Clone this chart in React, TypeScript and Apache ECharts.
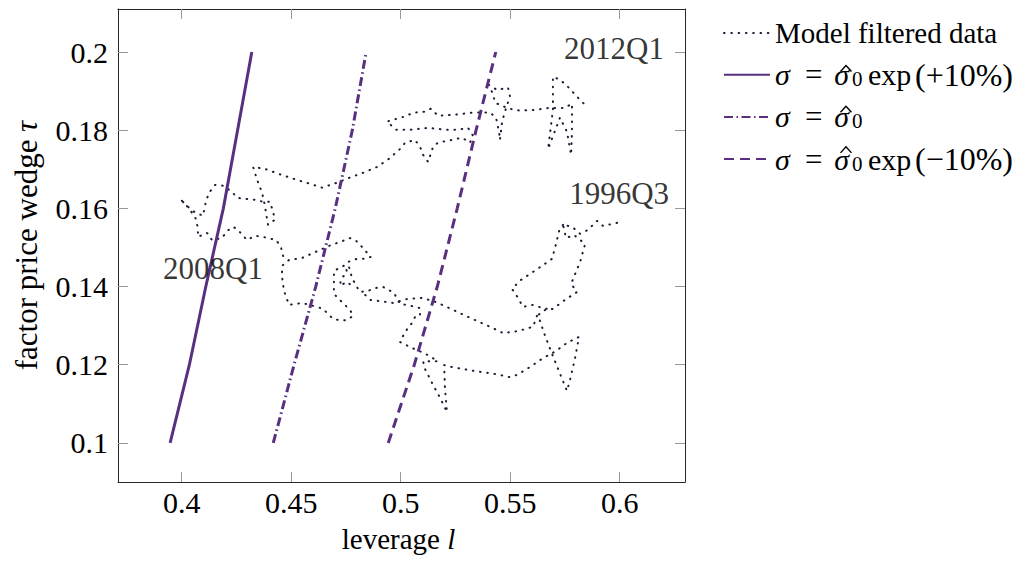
import React, { useEffect, useRef } from 'react';
import * as echarts from 'echarts';

// ---------- data ----------
const tauGrid = [0.1, 0.12, 0.14, 0.16, 0.18, 0.2];
const levPlus10 = [0.3947, 0.4035, 0.411, 0.419, 0.4255, 0.432];
const levBase = [0.4418, 0.4513, 0.4612, 0.4701, 0.4779, 0.4842];
const levMinus10 = [0.4943, 0.5062, 0.5167, 0.5258, 0.5344, 0.5434];

// model filtered data path (leverage l, wedge tau), drawn as connected strokes
const filteredPart1: [number, number][] = [
  [0.5988, 0.1563], [0.5924, 0.1555], [0.5896, 0.1568], [0.5855, 0.1545], [0.5819, 0.1535],
  [0.5782, 0.1553], [0.5741, 0.1558], [0.5755, 0.1524], [0.5791, 0.1532], [0.5842, 0.1509],
  [0.5819, 0.1463], [0.5778, 0.1407], [0.5805, 0.1386], [0.5755, 0.1368], [0.5695, 0.1343],
  [0.5659, 0.134], [0.5627, 0.1327], [0.5659, 0.1274], [0.5695, 0.1222], [0.5759, 0.1133],
  [0.5773, 0.1161], [0.5796, 0.1217], [0.5814, 0.1271], [0.5759, 0.1256], [0.5709, 0.1235],
  [0.565, 0.1217], [0.559, 0.1194], [0.5531, 0.1174], [0.5499, 0.1168], [0.5435, 0.1176],
  [0.5335, 0.1184], [0.5234, 0.1194], [0.5198, 0.1199], [0.5202, 0.114], [0.5211, 0.1079],
  [0.518, 0.1115], [0.5148, 0.1148], [0.5111, 0.1189], [0.5102, 0.1209], [0.517, 0.1209],
  [0.5116, 0.1227], [0.5052, 0.1243], [0.4997, 0.1258], [0.5011, 0.1274], [0.5029, 0.1291],
  [0.5052, 0.1307], [0.5065, 0.1322], [0.5088, 0.1325], [0.5088, 0.1345], [0.5029, 0.1353],
  [0.4997, 0.1355], [0.4969, 0.1384], [0.4919, 0.1399], [0.4883, 0.1396], [0.4851, 0.1389],
  [0.4814, 0.1386], [0.48, 0.1399], [0.4782, 0.1417], [0.4769, 0.1437], [0.4759, 0.1463],
  [0.48, 0.1471], [0.4837, 0.1471], [0.4864, 0.1476], [0.4842, 0.1489], [0.4819, 0.1504],
  [0.4796, 0.1517], [0.4769, 0.1524], [0.4737, 0.1517], [0.4673, 0.1504], [0.4613, 0.1489],
  [0.4549, 0.1473], [0.449, 0.1468], [0.4458, 0.1453], [0.4458, 0.1425], [0.4467, 0.1389],
  [0.449, 0.1353], [0.4549, 0.1358], [0.4618, 0.1348], [0.4645, 0.1343], [0.4691, 0.1317],
  [0.4723, 0.1314], [0.4755, 0.1314], [0.4782, 0.1325], [0.4769, 0.134], [0.4741, 0.1355],
  [0.4718, 0.1368], [0.4695, 0.1381], [0.4695, 0.1412], [0.4695, 0.144], [0.4746, 0.1455],
  [0.4755, 0.1437], [0.4727, 0.1419], [0.4723, 0.1402], [0.4755, 0.1412], [0.4782, 0.1399],
];
const filteredPart2: [number, number][] = [
  [0.5741, 0.1558], [0.5723, 0.1542], [0.5709, 0.1509], [0.5691, 0.1471], [0.5632, 0.1448],
  [0.5549, 0.1417], [0.5508, 0.1394], [0.5527, 0.1379], [0.5558, 0.1348], [0.5604, 0.1353],
  [0.5659, 0.1343], [0.5695, 0.1343],
];
const filteredPart3: [number, number][] = [
  [0.5622, 0.1325], [0.5604, 0.1297], [0.5536, 0.1286], [0.5467, 0.1281], [0.5408, 0.1297],
  [0.5316, 0.132], [0.5221, 0.1345], [0.5157, 0.1361], [0.5097, 0.1371], [0.5029, 0.1368],
  [0.4965, 0.1358], [0.4928, 0.1361], [0.486, 0.1366], [0.4837, 0.1379], [0.4814, 0.1386],
];
const filteredPart4: [number, number][] = [
  [0.4463, 0.1478], [0.4453, 0.1501], [0.4431, 0.1519], [0.4371, 0.1527], [0.4335, 0.153],
  [0.4298, 0.1519], [0.4253, 0.1547], [0.4234, 0.1553], [0.4207, 0.1542], [0.4184, 0.1524],
  [0.4138, 0.1519], [0.4116, 0.1537], [0.4074, 0.1527], [0.4074, 0.1548], [0.4065, 0.1573],
  [0.4038, 0.1596], [0.4015, 0.1612], [0.3992, 0.1624], [0.4047, 0.1594], [0.4097, 0.1581],
  [0.4111, 0.1619], [0.4125, 0.164], [0.4152, 0.166], [0.4189, 0.1658], [0.423, 0.1642],
  [0.4253, 0.1627], [0.4298, 0.1624], [0.4335, 0.1622], [0.4371, 0.1617], [0.4403, 0.1617],
  [0.4417, 0.1591], [0.4426, 0.1571], [0.4394, 0.1558], [0.438, 0.1606], [0.4367, 0.164],
  [0.4344, 0.1673], [0.4326, 0.1706], [0.438, 0.1701], [0.4444, 0.1688], [0.4508, 0.1676],
  [0.4572, 0.1665], [0.4641, 0.1653], [0.4705, 0.1665], [0.4764, 0.1678], [0.4828, 0.1691],
  [0.4892, 0.1706], [0.4947, 0.1727], [0.4997, 0.1752], [0.502, 0.1768], [0.5065, 0.1775],
  [0.5088, 0.1758], [0.5102, 0.1737], [0.5125, 0.1719], [0.5148, 0.1758], [0.517, 0.1768],
  [0.5234, 0.1775], [0.528, 0.1781], [0.5316, 0.1768], [0.533, 0.1786], [0.5307, 0.1806],
  [0.5262, 0.1801], [0.5207, 0.1801], [0.5125, 0.1806], [0.5042, 0.1801], [0.4979, 0.1801],
  [0.4937, 0.1822], [0.5011, 0.1834], [0.5061, 0.1845], [0.5106, 0.1847], [0.5138, 0.1855],
  [0.517, 0.1837], [0.5234, 0.1839], [0.533, 0.1845], [0.5408, 0.1845], [0.5435, 0.1832],
  [0.5449, 0.1796], [0.5453, 0.1775], [0.5463, 0.1822], [0.5481, 0.1857], [0.5499, 0.1886],
  [0.549, 0.1909], [0.544, 0.1903], [0.5403, 0.1916], [0.5422, 0.1891], [0.5431, 0.187],
  [0.5495, 0.1855], [0.5545, 0.185], [0.5613, 0.1852], [0.5677, 0.1857], [0.575, 0.1857],
  [0.5782, 0.1868], [0.5782, 0.1801], [0.5778, 0.1737], [0.5759, 0.1796], [0.5727, 0.1832],
  [0.5673, 0.1752], [0.5695, 0.1852], [0.5695, 0.1937], [0.5727, 0.1929], [0.5755, 0.1916],
  [0.5796, 0.1891], [0.5823, 0.1875], [0.5851, 0.186],
];

const annotationNames = ['2012Q1', '1996Q3', '2008Q1'];
const annotationLev = [0.5974, 0.5997, 0.4143];
const annotationTau = [0.2008, 0.1637, 0.1445];

const xTicks = [0.4, 0.45, 0.5, 0.55, 0.6];
const yTicks = [0.1, 0.12, 0.14, 0.16, 0.18, 0.2];

const NAME_DATA = 'Model filtered data';
const NAME_PLUS = 'σ = σ\u0302₀ exp(+10%)';
const NAME_BASE = 'σ = σ\u0302₀';
const NAME_MINUS = 'σ = σ\u0302₀ exp(−10%)';

// ---------- styling ----------
const FONT = "'Liberation Serif', 'Times New Roman', serif";
const PURPLE = '#59307f';
const DOTS = '#221a36';

const legendText: Record<string, string> = {
  [NAME_DATA]: '{t|Model filtered data}',
  [NAME_PLUS]: '{s1|σ}{eq|=}{s2|σ}{sub|0}{fn|exp}{fp|(+10%)}',
  [NAME_BASE]: '{s1|σ}{eq|=}{s2|σ}{sub|0}',
  [NAME_MINUS]: '{s1|σ}{eq|=}{s2|σ}{sub|0}{fn|exp}{fp|(−10%)}',
};
// circumflex accents over the second sigma of the three formula rows
const hatRows = [71.5, 112.2, 152.9];

const fmt = (v: number) => String(+v.toFixed(2));

export default function App() {
  const ref = useRef<HTMLDivElement>(null);

  useEffect(() => {
    if (!ref.current) return;
    const chart = echarts.init(ref.current, null, { renderer: 'svg' });

    const dotted = {
      type: 'line',
      name: NAME_DATA,
      showSymbol: false,
      symbol: 'none',
      lineStyle: { color: DOTS, width: 2, type: [0.6, 6.7], cap: 'round' },
      itemStyle: { color: DOTS },
      z: 2,
    };
    const pair = (ls: number[]) => ls.map((l, i) => [l, tauGrid[i]]);
    const base = { fontFamily: FONT, fontSize: 29, color: '#000' };
    const italic = { ...base, fontStyle: 'italic' };
    const tickRich = { t: { fontFamily: FONT, fontSize: 30, color: '#000', lineHeight: 30 } };

    const option: any = {
      animation: false,
      textStyle: { fontFamily: FONT },
      grid: { left: 118, top: 9, right: 344, bottom: 83 },
      legend: {
        data: [NAME_DATA, NAME_PLUS, NAME_BASE, NAME_MINUS],
        orient: 'vertical',
        left: 723,
        top: 18,
        padding: 0,
        itemWidth: 46,
        itemHeight: 14,
        itemGap: 10.7,
        selectedMode: false,
        itemStyle: { opacity: 0, borderWidth: 0 },
        formatter: (name: string) => legendText[name] ?? name,
        textStyle: {
          ...base,
          lineHeight: 30,
          rich: {
            t: { ...base, lineHeight: 30 },
            s1: { ...italic, fontSize: 30, lineHeight: 30, width: 30 },
            eq: { ...base, fontSize: 31, lineHeight: 30, width: 29.3 },
            s2: { ...italic, fontSize: 30, lineHeight: 30, width: 17.7 },
            sub: { ...base, fontSize: 21, lineHeight: 14, width: 16, verticalAlign: 'bottom' },
            fn: { ...base, fontSize: 30, lineHeight: 30, width: 47 },
            fp: { ...base, fontSize: 32, lineHeight: 30 },
          },
        },
      },
      graphic: {
        elements: hatRows.map((y) => ({
          type: 'polyline',
          shape: { points: [[840.5, y], [846, y - 6], [851.5, y]] },
          style: { stroke: '#000', lineWidth: 1.4, fill: null },
          z: 10,
        })),
      },
      xAxis: [
        {
          type: 'value',
          min: 0.3709,
          max: 0.6298,
          position: 'bottom',
          name: '{n|leverage }{i|l}',
          nameLocation: 'middle',
          nameGap: 42,
          nameTextStyle: { ...base, padding: [0, 6, 0, 0], rich: { n: base, i: italic } },
          axisLine: { show: true, lineStyle: { color: '#262626', width: 1 } },
          axisTick: { show: true, inside: true, length: 10, customValues: xTicks, lineStyle: { color: '#999' } },
          axisLabel: {
            customValues: xTicks,
            formatter: (v: number) => `{t|${fmt(v)}}`,
            rich: tickRich,
            fontFamily: FONT,
            fontSize: 30,
            color: '#000',
            verticalAlign: 'middle',
            margin: 20,
          },
          splitLine: { show: false },
        },
        {
          type: 'value',
          min: 0.3709,
          max: 0.6298,
          position: 'top',
          axisLine: { show: true, lineStyle: { color: '#262626', width: 1 } },
          axisTick: { show: true, inside: true, length: 10, customValues: xTicks, lineStyle: { color: '#999' } },
          axisLabel: { show: false },
          splitLine: { show: false },
        },
      ],
      yAxis: [
        {
          type: 'value',
          min: 0.09,
          max: 0.211,
          position: 'left',
          name: '{n|factor price wedge }{i|τ}',
          nameLocation: 'middle',
          nameGap: 76,
          nameTextStyle: { ...base, fontSize: 31, rich: { n: { ...base, fontSize: 31 }, i: { ...italic, fontSize: 31 } } },
          axisLine: { show: true, lineStyle: { color: '#262626', width: 1 } },
          axisTick: { show: true, inside: true, length: 10, customValues: yTicks, lineStyle: { color: '#999' } },
          axisLabel: {
            customValues: yTicks,
            formatter: (v: number) => `{t|${fmt(v)}}`,
            rich: tickRich,
            fontFamily: FONT,
            fontSize: 30,
            color: '#000',
            margin: 10,
          },
          splitLine: { show: false },
        },
        {
          type: 'value',
          min: 0.09,
          max: 0.211,
          position: 'right',
          axisLine: { show: true, lineStyle: { color: '#262626', width: 1 } },
          axisTick: { show: true, inside: true, length: 10, customValues: yTicks, lineStyle: { color: '#999' } },
          axisLabel: { show: false },
          splitLine: { show: false },
        },
      ],
      series: [
        { ...dotted, data: filteredPart1 },
        { ...dotted, data: filteredPart2 },
        { ...dotted, data: filteredPart3 },
        { ...dotted, data: filteredPart4 },
        {
          type: 'line',
          name: NAME_PLUS,
          data: pair(levPlus10),
          showSymbol: false,
          symbol: 'none',
          lineStyle: { color: PURPLE, width: 3 },
          itemStyle: { color: PURPLE },
          z: 3,
        },
        {
          type: 'line',
          name: NAME_BASE,
          data: pair(levBase),
          showSymbol: false,
          symbol: 'none',
          lineStyle: { color: PURPLE, width: 3, type: [9, 3.5, 1.5, 3.5] },
          itemStyle: { color: PURPLE },
          z: 3,
        },
        {
          type: 'line',
          name: NAME_MINUS,
          data: pair(levMinus10),
          showSymbol: false,
          symbol: 'none',
          lineStyle: { color: PURPLE, width: 3, type: [10, 6] },
          itemStyle: { color: PURPLE },
          z: 3,
        },
        {
          type: 'scatter',
          name: 'annotations',
          data: annotationLev.map((l, i) => [l, annotationTau[i]]),
          symbolSize: 1,
          itemStyle: { color: 'rgba(0,0,0,0)' },
          silent: true,
          z: 5,
          label: {
            show: true,
            position: 'inside',
            formatter: (p: any) => `{t|${annotationNames[p.dataIndex]}}`,
            rich: { t: { fontFamily: FONT, fontSize: 31, color: '#000' } },
            fontFamily: FONT,
            fontSize: 31,
            color: '#000',
          },
        },
      ],
    };

    chart.setOption(option);
    return () => chart.dispose();
  }, []);

  return (
    <div
      ref={ref}
      style={{ position: 'absolute', left: 0, top: 0, width: 1029, height: 565, background: '#fff' }}
    />
  );
}
